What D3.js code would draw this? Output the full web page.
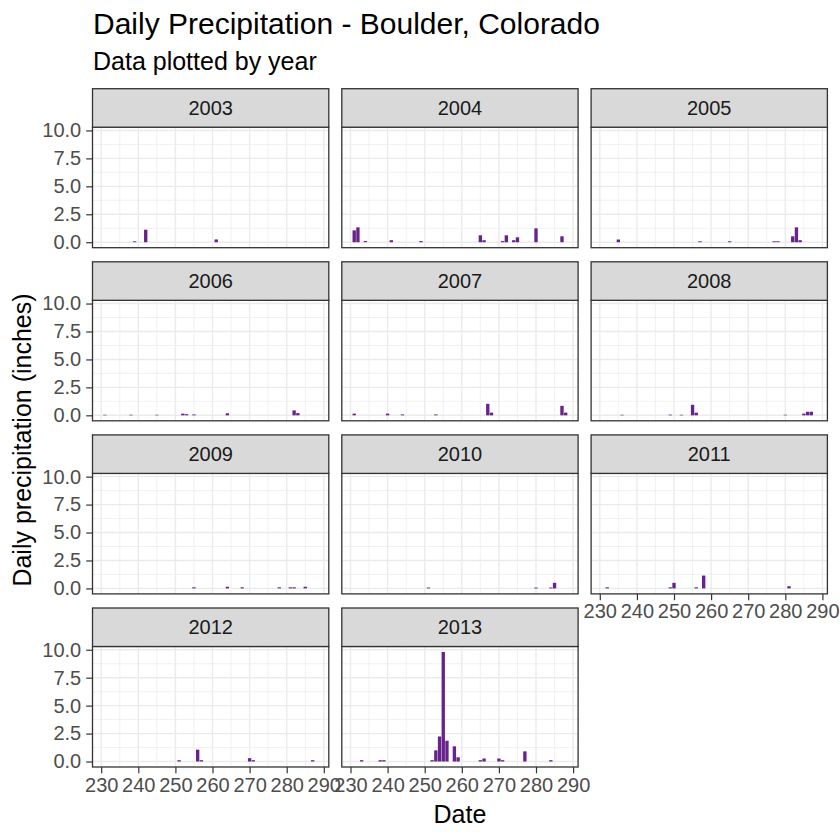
<!DOCTYPE html>
<html><head><meta charset="utf-8">
<script src="https://cdn.jsdelivr.net/npm/d3@7"></script>
<style>body{margin:0;background:#fff} text{font-family:"Liberation Sans",Arial,sans-serif}</style>
</head><body>
<svg id="chart" width="840" height="840"></svg>
<script>
// ---- data (day of year, daily precipitation in inches) ----
const years = [2003, 2004, 2005, 2006, 2007, 2008, 2009, 2010, 2011, 2012, 2013];
const days2003 = [239, 242, 261];
const inches2003 = [0.08, 1.12, 0.25];
const days2004 = [231, 232, 234, 241, 249, 265, 266, 271, 272, 274, 275, 280, 287];
const inches2004 = [1.06, 1.33, 0.1, 0.18, 0.1, 0.62, 0.18, 0.1, 0.62, 0.18, 0.44, 1.24, 0.53];
const days2005 = [235, 257, 265, 277, 278, 282, 283, 284];
const inches2005 = [0.24, 0.08, 0.08, 0.08, 0.08, 0.53, 1.33, 0.18];
const days2006 = [231, 238, 245, 252, 253, 255, 264, 282, 283];
const inches2006 = [0.05, 0.05, 0.05, 0.15, 0.1, 0.08, 0.18, 0.44, 0.2];
const days2007 = [231, 240, 244, 253, 267, 268, 287, 288];
const inches2007 = [0.15, 0.15, 0.08, 0.08, 1.03, 0.24, 0.85, 0.24];
const days2008 = [236, 249, 252, 255, 256, 280, 285, 286, 287];
const inches2008 = [0.05, 0.06, 0.05, 0.94, 0.24, 0.05, 0.15, 0.32, 0.32];
const days2009 = [255, 264, 268, 278, 281, 282, 285];
const inches2009 = [0.1, 0.15, 0.1, 0.1, 0.1, 0.1, 0.15];
const days2010 = [251, 280, 284, 285];
const inches2010 = [0.08, 0.08, 0.08, 0.5];
const days2011 = [232, 249, 250, 256, 258, 281];
const inches2011 = [0.1, 0.1, 0.5, 0.1, 1.15, 0.2];
const days2012 = [251, 256, 257, 270, 271, 287];
const inches2012 = [0.12, 1.06, 0.12, 0.3, 0.12, 0.12];
const days2013 = [233, 238, 239, 252, 253, 254, 255, 256, 258, 259, 265, 266, 270, 271, 277, 284];
const inches2013 = [0.12, 0.12, 0.12, 0.12, 1.0, 2.24, 9.8, 1.86, 1.36, 0.38, 0.12, 0.27, 0.27, 0.12, 0.91, 0.12];

const xTicks = [230, 240, 250, 260, 270, 280, 290];
const xMinor = [235, 245, 255, 265, 275, 285];
const yTicks = [0, 2.5, 5, 7.5, 10];
const yMinor = [1.25, 3.75, 6.25, 8.75];

const titleText = "Daily Precipitation - Boulder, Colorado";
const subtitleText = "Data plotted by year";
const xTitle = "Date";
const yTitle = "Daily precipitation (inches)";

// ---- build table ----
const series = {
  2003: [days2003, inches2003], 2004: [days2004, inches2004], 2005: [days2005, inches2005],
  2006: [days2006, inches2006], 2007: [days2007, inches2007], 2008: [days2008, inches2008],
  2009: [days2009, inches2009], 2010: [days2010, inches2010], 2011: [days2011, inches2011],
  2012: [days2012, inches2012], 2013: [days2013, inches2013]
};
const rows = [];
years.forEach(y => {
  const [d, v] = series[y];
  d.forEach((day, i) => rows.push({year: y, day: day, value: v[i]}));
});

// ---- layout ----
const colX = [92.5, 341.8, 591.1];
const rowTop = [88.7, 261.8, 434.9, 608.0];
const panelW = 236.3, panelH = 120.5, stripH = 38.5;
const barW = 0.9;

const dMin = d3.min(rows, r => r.day) - barW / 2;
const dMax = d3.max(rows, r => r.day) + barW / 2;
const dPad = (dMax - dMin) * 0.05;
const vMax = d3.max(rows, r => r.value);

const x = d3.scaleLinear().domain([dMin - dPad, dMax + dPad]).range([0, panelW]);
const y = d3.scaleLinear().domain([-0.05 * vMax, 1.05 * vMax]).range([panelH, 0]);

const svg = d3.select("#chart");
svg.append("rect").attr("width", 840).attr("height", 840).attr("fill", "#fff");

svg.append("text").attr("x", 93).attr("y", 34).attr("font-size", 30).attr("fill", "#000").text(titleText);
svg.append("text").attr("x", 93).attr("y", 70).attr("font-size", 25).attr("fill", "#000").text(subtitleText);

const nCols = 3;
years.forEach((yr, i) => {
  const r = Math.floor(i / nCols), c = i % nCols;
  const px = colX[c], stripY = rowTop[r], py = stripY + stripH;
  const g = svg.append("g").attr("transform", `translate(${px},${py})`);

  // grid
  g.selectAll(".vmin").data(xMinor).join("line")
    .attr("x1", d => x(d)).attr("x2", d => x(d)).attr("y1", 0).attr("y2", panelH)
    .attr("stroke", "#EBEBEB").attr("stroke-width", 0.7);
  g.selectAll(".hmin").data(yMinor).join("line")
    .attr("y1", d => y(d)).attr("y2", d => y(d)).attr("x1", 0).attr("x2", panelW)
    .attr("stroke", "#EBEBEB").attr("stroke-width", 0.7);
  g.selectAll(".vmaj").data(xTicks).join("line")
    .attr("x1", d => x(d)).attr("x2", d => x(d)).attr("y1", 0).attr("y2", panelH)
    .attr("stroke", "#EBEBEB").attr("stroke-width", 1.4);
  g.selectAll(".hmaj").data(yTicks).join("line")
    .attr("y1", d => y(d)).attr("y2", d => y(d)).attr("x1", 0).attr("x2", panelW)
    .attr("stroke", "#EBEBEB").attr("stroke-width", 1.4);

  // bars
  g.selectAll(".bar").data(rows.filter(d => d.year === yr)).join("rect")
    .attr("x", d => x(d.day - barW / 2))
    .attr("width", d => x(d.day + barW / 2) - x(d.day - barW / 2))
    .attr("y", d => y(d.value))
    .attr("height", d => y(0) - y(d.value))
    .attr("fill", "#68228B");

  // panel border
  g.append("rect").attr("x", 0).attr("y", 0).attr("width", panelW).attr("height", panelH)
    .attr("fill", "none").attr("stroke", "#333333").attr("stroke-width", 1.3);

  // strip
  svg.append("rect").attr("x", px).attr("y", stripY).attr("width", panelW).attr("height", stripH)
    .attr("fill", "#D9D9D9").attr("stroke", "#333333").attr("stroke-width", 1.3);
  svg.append("text").attr("x", px + panelW / 2).attr("y", stripY + stripH / 2 + 7)
    .attr("text-anchor", "middle").attr("font-size", 20).attr("fill", "#1A1A1A").text(yr);

  // y axis on first column
  if (c === 0) {
    const ax = g.append("g").call(d3.axisLeft(y).tickValues(yTicks).tickFormat(d3.format(".1f"))
      .tickSize(6.3).tickPadding(5));
    ax.select(".domain").remove();
    ax.selectAll("line").attr("stroke", "#333333").attr("stroke-width", 1.2);
    ax.selectAll("text").attr("font-size", 20).attr("fill", "#4D4D4D")
      .attr("font-family", '"Liberation Sans",Arial,sans-serif');
  }
  // x axis when nothing below
  const below = i + nCols;
  if (below >= years.length) {
    const ax = g.append("g").attr("transform", `translate(0,${panelH})`)
      .call(d3.axisBottom(x).tickValues(xTicks).tickFormat(d3.format("d")).tickSize(6.3).tickPadding(4));
    ax.select(".domain").remove();
    ax.selectAll("line").attr("stroke", "#333333").attr("stroke-width", 1.2);
    ax.selectAll("text").attr("font-size", 20).attr("fill", "#4D4D4D")
      .attr("font-family", '"Liberation Sans",Arial,sans-serif');
  }
});

// axis titles
svg.append("text").attr("x", colX[0] + (colX[2] + panelW - colX[0]) / 2).attr("y", 823)
  .attr("text-anchor", "middle").attr("font-size", 25).attr("fill", "#000").text(xTitle);
svg.append("text").attr("transform", `translate(31,440) rotate(-90)`)
  .attr("text-anchor", "middle").attr("font-size", 25).attr("fill", "#000").text(yTitle);
</script>
</body></html>
